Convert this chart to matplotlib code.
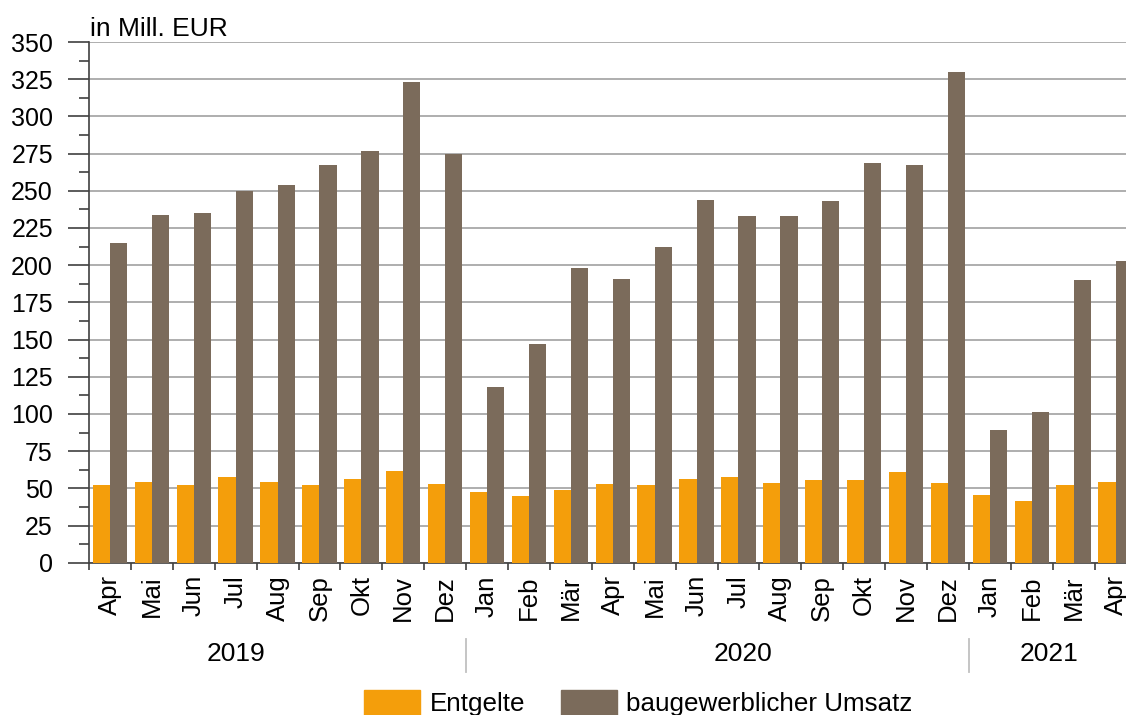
import numpy as np
import matplotlib
matplotlib.use("Agg")
import matplotlib.pyplot as plt
from matplotlib.patches import Patch
from matplotlib.ticker import MultipleLocator, FixedLocator

plt.rcParams['font.family'] = ['Liberation Sans', 'DejaVu Sans']

# Monate Apr 2019 - Apr 2021
monate = ["Apr", "Mai", "Jun", "Jul", "Aug", "Sep", "Okt", "Nov", "Dez",
          "Jan", "Feb", "Mär", "Apr", "Mai", "Jun", "Jul", "Aug", "Sep", "Okt", "Nov", "Dez",
          "Jan", "Feb", "Mär", "Apr"]
jahre = ["2019", "2020", "2021"]
jahr_pos = [3.0, 15.1, 22.4]      # Lage der Jahresbeschriftung (Kategorie-Index)
jahr_grenzen = [8.5, 20.5]

entgelte = [52.3, 54.3, 52.3, 57.7, 54.3, 52.3, 56.4, 61.7, 53.0,
            47.6, 44.9, 49.0, 53.0, 52.3, 56.4, 57.7, 53.7, 55.7, 55.7, 61.1, 53.7,
            45.6, 41.5, 52.3, 54.3]
umsatz = [215, 234, 235, 250, 254, 267, 277, 323, 275,
          118, 147, 198, 191, 212, 244, 233, 233, 243, 269, 267, 330,
          89, 101, 190, 203]

c_orange = "#f49e0b"
c_braun = "#7b6b5b"

fig = plt.figure(figsize=(11.26, 7.15), dpi=100)
ax = fig.add_axes([89 / 1126, (715 - 562.7) / 715, 25 * 41.9 / 1126, 520.7 / 715])

x = np.arange(len(monate))
w = 0.41
ax.bar(x - w / 2, entgelte, w, color=c_orange, zorder=3)
ax.bar(x + w / 2, umsatz, w, color=c_braun, zorder=3)

ax.set_xlim(-0.5, len(monate) - 0.5)
ax.set_ylim(0, 350)

# y-Achse
ax.yaxis.set_major_locator(MultipleLocator(25))
ax.yaxis.set_minor_locator(MultipleLocator(12.5))
ax.tick_params(axis='y', which='major', length=15, width=1.2, color='#404040',
               labelsize=18, pad=11)
ax.tick_params(axis='y', which='minor', length=7.5, width=1.2, color='#404040')
ax.grid(axis='y', color='#a8a8a8', linewidth=1.3, zorder=0)

# x-Achse
ax.set_xticks(x)
ax.set_xticklabels(monate, rotation=90, fontsize=18.5)
ax.xaxis.set_minor_locator(FixedLocator(np.arange(-0.5, len(monate), 1.0)))
ax.tick_params(axis='x', which='major', length=0, pad=9)
ax.tick_params(axis='x', which='minor', length=5, width=1.2, color='#404040')

for s in ['top', 'right']:
    ax.spines[s].set_visible(False)
for s in ['left', 'bottom']:
    ax.spines[s].set_color('#404040')
    ax.spines[s].set_linewidth(1.2)

# Jahre
trans = ax.get_xaxis_transform()
for j, p in zip(jahre, jahr_pos):
    ax.text(p, -0.175, j, transform=trans, ha='center', va='center', fontsize=19)
for g in jahr_grenzen:
    ax.plot([g, g], [-0.147, -0.210], transform=trans, color='#c0c0c0',
            linewidth=1.3, clip_on=False)

fig.text(90 / 1126, 1 - 36 / 715, "in Mill. EUR", fontsize=19, va='baseline', ha='left')

handles = [Patch(color=c_orange, label="Entgelte"),
           Patch(color=c_braun, label="baugewerblicher Umsatz")]
fig.legend(handles=handles, loc='lower center', bbox_to_anchor=(0.567, -0.034),
           ncol=2, frameon=False, fontsize=18.7, handlelength=2.15, handleheight=1.1,
           columnspacing=1.4, handletextpad=0.35)

fig.savefig("out.png", dpi=100)
